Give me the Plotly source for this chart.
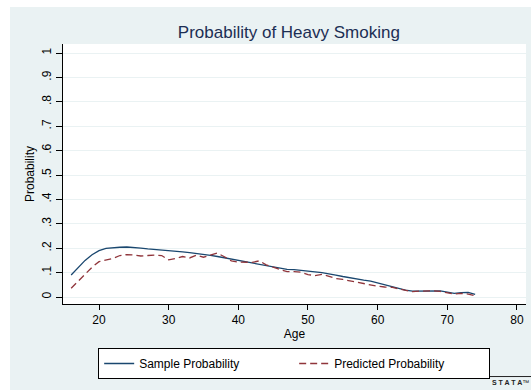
import plotly.graph_objects as go

# Age in years
ages = list(range(16, 75))

# Observed share of heavy smokers at each age
sample_prob = [
    0.090, 0.118, 0.150, 0.173, 0.190, 0.199, 0.203, 0.204, 0.205, 0.204,
    0.200, 0.197, 0.195, 0.193, 0.191, 0.188, 0.185, 0.182, 0.179, 0.176,
    0.171, 0.166, 0.161, 0.156, 0.151, 0.146, 0.140, 0.135, 0.130, 0.125,
    0.118, 0.113, 0.112, 0.110, 0.106, 0.103, 0.100, 0.096, 0.090, 0.084,
    0.078, 0.074, 0.069, 0.065, 0.058, 0.050, 0.042, 0.034, 0.028, 0.024,
    0.025, 0.025, 0.026, 0.025, 0.020, 0.015, 0.018, 0.019, 0.011,
]

# Model-predicted probability at each age
pred_prob = [
    0.036, 0.065, 0.090, 0.122, 0.145, 0.152, 0.158, 0.170, 0.174, 0.172,
    0.168, 0.170, 0.172, 0.170, 0.152, 0.158, 0.166, 0.160, 0.172, 0.163,
    0.172, 0.180, 0.165, 0.148, 0.143, 0.142, 0.142, 0.148, 0.132, 0.122,
    0.112, 0.104, 0.104, 0.102, 0.092, 0.088, 0.093, 0.085, 0.076, 0.072,
    0.066, 0.062, 0.055, 0.050, 0.044, 0.041, 0.040, 0.033, 0.028, 0.022,
    0.024, 0.025, 0.025, 0.023, 0.018, 0.012, 0.015, 0.012, 0.005,
]

y_ticks = [i / 10 for i in range(11)]
y_tick_text = ["0", ".1", ".2", ".3", ".4", ".5", ".6", ".7", ".8", ".9", "1"]
x_ticks = [20, 30, 40, 50, 60, 70, 80]

NAVY = "#1a476f"
MAROON = "#90353b"
BLUISH = "#eaf2f3"
FONT = "Liberation Sans, Arial, sans-serif"

fig = go.Figure()
fig.add_trace(go.Scatter(
    x=ages, y=sample_prob, mode="lines", name="Sample Probability",
    line=dict(color=NAVY, width=1.3),
))
fig.add_trace(go.Scatter(
    x=ages, y=pred_prob, mode="lines", name="Predicted Probability",
    line=dict(color=MAROON, width=1.3, dash="7px,4px"),
))

# White page border above and left of the bluish graph region
fig.add_shape(
    type="rect", xref="paper", yref="paper",
    x0=-0.14, x1=1.02, y0=1.1423, y1=1.2,
    fillcolor="white", line=dict(width=0), layer="above",
)
fig.add_shape(
    type="rect", xref="paper", yref="paper",
    x0=-0.14, x1=-0.1145, y0=-0.34, y1=1.2,
    fillcolor="white", line=dict(width=0), layer="above",
)

# Stata logo mark
fig.add_annotation(
    xref="paper", yref="paper", x=1.011, y=-0.300,
    xanchor="right", yanchor="middle", showarrow=False,
    text="<b>S T A T A</b>\u2122",
    font=dict(family=FONT, size=7, color="#222222"),
)
fig.add_shape(
    type="line", xref="paper", yref="paper",
    x0=0.903, x1=1.011, y0=-0.279, y1=-0.279,
    line=dict(color="#222222", width=1),
)

fig.update_layout(
    width=531, height=390,
    margin=dict(l=63, r=5, t=44, b=86),
    paper_bgcolor=BLUISH,
    plot_bgcolor="white",
    font=dict(family=FONT, size=12, color="black"),
    title=dict(
        text="Probability of Heavy Smoking",
        x=0.544, xref="container", xanchor="center",
        y=0.918, yref="container", yanchor="middle",
        font=dict(family=FONT, size=17, color="#1c2e54"),
    ),
    xaxis=dict(
        range=[14.83, 81.3],
        tickvals=x_ticks,
        ticks="outside", ticklen=5, tickwidth=1, tickcolor="black",
        showline=True, linecolor="black", linewidth=1,
        showgrid=False, zeroline=False,
        tickfont=dict(size=12),
        title=dict(text="Age", font=dict(size=12), standoff=2),
        automargin=False,
    ),
    yaxis=dict(
        range=[-0.0287, 1.037],
        tickvals=y_ticks, ticktext=y_tick_text,
        tickangle=-90,
        ticks="outside", ticklen=6, tickwidth=1, tickcolor="black",
        showline=True, linecolor="black", linewidth=1,
        showgrid=True, gridcolor=BLUISH, gridwidth=1,
        zeroline=False,
        tickfont=dict(size=12),
        title=dict(text="Probability", font=dict(size=12), standoff=3),
        automargin=False,
    ),
    legend=dict(
        orientation="h",
        x=0.554, xanchor="center", xref="container",
        y=0.1077, yanchor="top", yref="container",
        bgcolor="white", bordercolor="black", borderwidth=1,
        font=dict(size=12),
        entrywidth=150,
    ),
    showlegend=True,
)

fig.write_html("out.html")
